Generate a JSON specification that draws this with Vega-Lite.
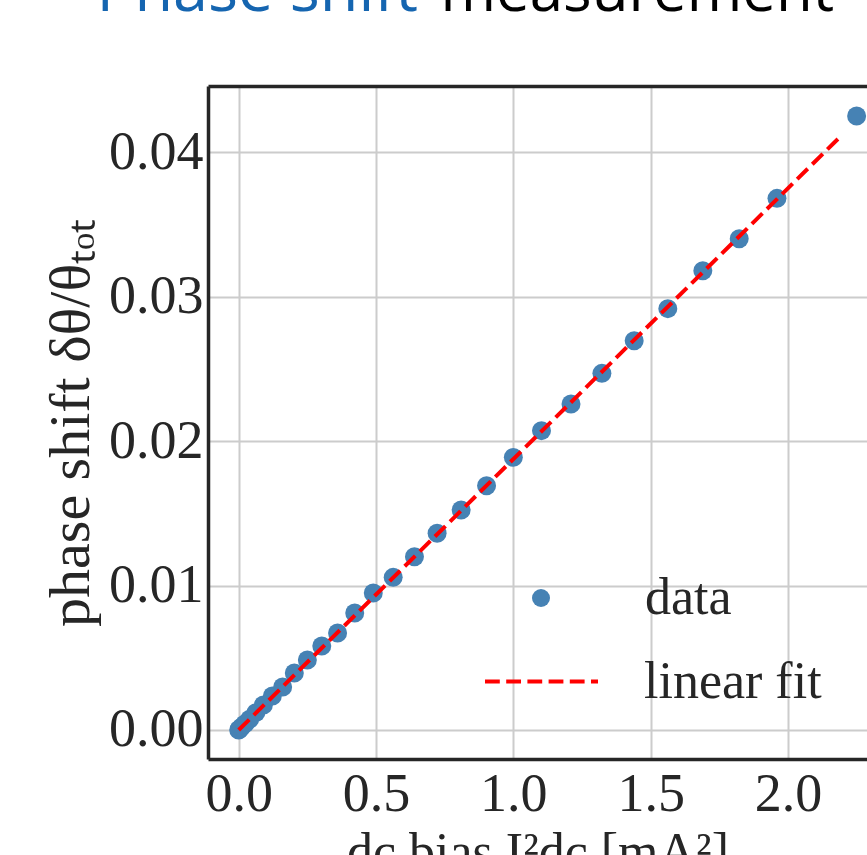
{
  "$schema": "https://vega.github.io/schema/vega-lite/v6.json",
  "width": 659,
  "height": 673,
  "autosize": {"type": "none"},
  "padding": {"left": 208, "top": 86, "right": 0, "bottom": 96},
  "background": "white",
  "config": {"view": {"stroke": null}, "font": "Liberation Serif"},
  "datasets": {
    "measured": [
      {"x": 0, "y": 0},
      {"x": 0.0025, "y": 0.00005},
      {"x": 0.01, "y": 0.0002},
      {"x": 0.0225, "y": 0.00042},
      {"x": 0.04, "y": 0.00075},
      {"x": 0.0625, "y": 0.0012},
      {"x": 0.09, "y": 0.00173},
      {"x": 0.1225, "y": 0.00235},
      {"x": 0.16, "y": 0.00298},
      {"x": 0.2025, "y": 0.00395},
      {"x": 0.25, "y": 0.00485},
      {"x": 0.3025, "y": 0.00582},
      {"x": 0.36, "y": 0.00672},
      {"x": 0.4225, "y": 0.0081},
      {"x": 0.49, "y": 0.00949},
      {"x": 0.5625, "y": 0.01057},
      {"x": 0.64, "y": 0.012},
      {"x": 0.7225, "y": 0.01362},
      {"x": 0.81, "y": 0.01524},
      {"x": 0.9025, "y": 0.01692},
      {"x": 1.0, "y": 0.01888},
      {"x": 1.1025, "y": 0.02073},
      {"x": 1.21, "y": 0.02258},
      {"x": 1.3225, "y": 0.0247},
      {"x": 1.44, "y": 0.02696},
      {"x": 1.5625, "y": 0.02918},
      {"x": 1.69, "y": 0.03181},
      {"x": 1.8225, "y": 0.03402},
      {"x": 1.96, "y": 0.03682},
      {"x": 2.25, "y": 0.04252}
    ],
    "fit": [
      {"x": 0, "y": 0},
      {"x": 2.182, "y": 0.04093}
    ]
  },
  "resolve": {"axis": {"x": "independent", "y": "independent"}},
  "layer": [
    {
      "data": {"name": "measured"},
      "mark": {"type": "point", "filled": true, "size": 360, "opacity": 1, "color": "#4682b4"},
      "encoding": {
        "x": {
          "field": "x",
          "type": "quantitative",
          "scale": {"domain": [-0.1118, 2.2878], "nice": false, "zero": false},
          "axis": {
            "orient": "bottom",
            "values": [0, 0.5, 1, 1.5, 2],
            "format": ".1f",
            "title": "dc bias I²dc [mA²]",
            "domainColor": "#262626",
            "domainWidth": 3.5,
            "grid": true,
            "gridColor": "#cccccc",
            "gridWidth": 2,
            "ticks": false,
            "labelFont": "Liberation Serif",
            "labelFontSize": 54,
            "labelColor": "#262626",
            "labelPadding": 8,
            "labelFlush": false,
            "titleFont": "Liberation Serif",
            "titleFontSize": 52,
            "titleFontWeight": "normal",
            "titleColor": "#262626",
            "titlePadding": 6
          }
        },
        "y": {
          "field": "y",
          "type": "quantitative",
          "scale": {"domain": [-0.00201, 0.0446], "nice": false, "zero": false},
          "axis": {
            "orient": "left",
            "values": [0, 0.01, 0.02, 0.03, 0.04],
            "format": ".2f",
            "title": "phase shift δθ/θₜₒₜ",
            "domainColor": "#262626",
            "domainWidth": 3.5,
            "grid": true,
            "gridColor": "#cccccc",
            "gridWidth": 2,
            "ticks": false,
            "labelFont": "Liberation Serif",
            "labelFontSize": 54,
            "labelColor": "#262626",
            "labelPadding": 5,
            "labelFlush": false,
            "titleFont": "Liberation Serif",
            "titleFontSize": 58,
            "titleFontWeight": "normal",
            "titleColor": "#262626",
            "titlePadding": 8
          }
        },
        "shape": {
          "datum": "data",
          "type": "nominal",
          "scale": {"domain": ["data"], "range": ["circle"]},
          "legend": {
            "title": null,
            "orient": "none",
            "legendX": 307,
            "legendY": 486,
            "padding": 0,
            "symbolSize": 324,
            "symbolFillColor": "#4682b4",
            "symbolStrokeColor": "transparent",
            "labelOffset": 78,
            "labelLimit": 0,
            "labelFont": "Liberation Serif",
            "labelFontSize": 52,
            "labelColor": "#262626"
          }
        }
      }
    },
    {
      "data": {"name": "fit"},
      "mark": {"type": "line", "strokeWidth": 4, "color": "#ff0000"},
      "encoding": {
        "x": {
          "field": "x",
          "type": "quantitative",
          "axis": {
            "orient": "top",
            "labels": false,
            "ticks": false,
            "grid": false,
            "domain": true,
            "domainColor": "#262626",
            "domainWidth": 3.5,
            "title": "measurement",
            "titleFont": "Open Sans",
            "titleFontSize": 60,
            "titleFontWeight": "normal",
            "titleColor": "#000000",
            "titleAlign": "left",
            "titleBaseline": "alphabetic",
            "titleX": 232,
            "titleY": -76
          }
        },
        "y": {
          "field": "y",
          "type": "quantitative",
          "axis": {
            "orient": "right",
            "labels": false,
            "ticks": false,
            "grid": false,
            "domain": false,
            "title": "Phase shift",
            "titleAngle": 0,
            "titleFont": "Open Sans",
            "titleFontSize": 63,
            "titleFontWeight": "normal",
            "titleColor": "#1565b0",
            "titleAlign": "left",
            "titleBaseline": "alphabetic",
            "titleX": -771,
            "titleY": -76
          }
        },
        "strokeDash": {
          "datum": "linear fit",
          "type": "nominal",
          "scale": {"domain": ["linear fit"], "range": [[14.8, 6.4]]},
          "legend": {
            "title": null,
            "orient": "none",
            "legendX": 275,
            "legendY": 537,
            "padding": 0,
            "symbolType": "stroke",
            "symbolSize": 12769,
            "symbolStrokeWidth": 4,
            "symbolStrokeColor": "#ff0000",
            "labelOffset": 44,
            "labelLimit": 0,
            "labelFont": "Liberation Serif",
            "labelFontSize": 52,
            "labelColor": "#262626"
          }
        }
      }
    }
  ]
}
